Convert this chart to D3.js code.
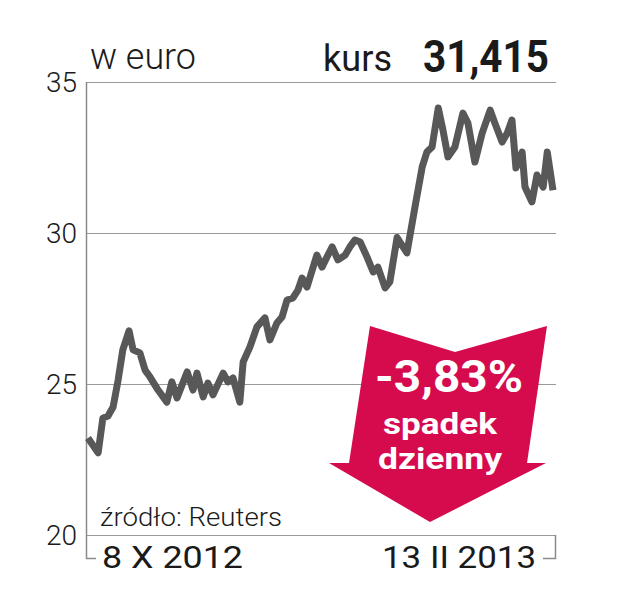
<!DOCTYPE html>
<html>
<head>
<meta charset="utf-8">
<script src="https://cdn.jsdelivr.net/npm/d3@7"></script>
<style>
    body { margin: 0; background: #fff; }
    text { font-family: Roboto, "DejaVu Sans", sans-serif; }
</style>
</head>
<body>
<div id="chart"></div>
<script>
// days since 8 X 2012 and closing price in euro
var dni = [0, 2.8, 4.1, 5.5, 6.9, 8.3, 9.6, 11.3, 12.4, 14.3, 15.7, 17.1, 19.3, 21.7, 23.1, 24.5,
    27.3, 28.9, 30.0, 31.7, 33.0, 34.4, 37.2, 38.5, 39.9, 41.8, 42.7, 44.6, 46.5, 48.7, 50.1,
    52.0, 53.4, 54.8, 56.4, 57.8, 58.9, 60.3, 61.7, 63.0, 64.4, 65.8, 67.2, 68.8, 70.8, 72.1,
    73.5, 74.9, 76.8, 78.5, 79.8, 81.8, 83.1, 85.1, 87.8, 90.0, 92.0, 93.3, 94.7, 96.4, 97.7,
    99.1, 101.0, 103.2, 104.6, 106.5, 108.5, 110.7, 112.0, 114.0, 115.4, 116.7, 117.8, 119.5,
    120.3, 122.2, 123.6, 125.3, 126.4, 128];
var kurs = [23.21, 22.72, 23.87, 23.94, 24.24, 25.13, 26.13, 26.76, 26.13, 26.03, 25.46, 25.23,
    24.80, 24.40, 25.07, 24.54, 25.40, 24.80, 25.36, 24.57, 25.03, 24.64, 25.36, 25.07, 25.20,
    24.40, 25.73, 26.23, 26.89, 27.19, 26.46, 27.02, 27.22, 27.78, 27.85, 28.11, 28.51, 28.21,
    28.77, 29.27, 28.87, 29.21, 29.54, 29.11, 29.27, 29.54, 29.77, 29.70, 29.21, 28.71, 28.87,
    28.18, 28.38, 29.85, 29.34, 30.86, 32.19, 32.68, 32.85, 34.14, 33.41, 32.52, 32.85, 33.97,
    33.64, 32.35, 33.31, 34.07, 33.64, 33.01, 33.31, 33.74, 32.15, 32.68, 31.52, 31.03, 31.92,
    31.52, 32.68, 31.415];
var yTicks = [20, 25, 30, 35];
var dateLabels = ["8 X 2012", "13 II 2013"];
var ostatni = "31,415";
var zmiana = ["-3,83%", "spadek", "dzienny"];

var width = 625, height = 595;
var start = new Date(2012, 9, 8), end = new Date(2013, 1, 13);

var svg = d3.select("#chart").append("svg")
    .attr("width", width)
    .attr("height", height);

var x = d3.scaleTime().domain([start, end]).range([88, 553]);
var y = d3.scaleLinear().domain([20, 35]).range([535, 82]);

var data = dni.map(function(d, i) {
    return { date: d3.timeHour.offset(start, Math.round(d * 24)), value: kurs[i] };
});

// gridlines
svg.selectAll(".grid")
    .data(yTicks)
    .join("line")
    .attr("x1", 86).attr("x2", 556)
    .attr("y1", function(d) { return y(d) + 0.5; })
    .attr("y2", function(d) { return y(d) + 0.5; })
    .attr("stroke", "#9a9a9a")
    .attr("stroke-width", 1.2);

// frame brackets
svg.append("path")
    .attr("d", "M86.5," + y(35) + "V558.5H96")
    .attr("fill", "none").attr("stroke", "#8a8a8a").attr("stroke-width", 1.5);
svg.append("path")
    .attr("d", "M555.5," + y(20) + "V558.5H543")
    .attr("fill", "none").attr("stroke", "#8a8a8a").attr("stroke-width", 1.5);

// y labels
svg.selectAll(".ylab")
    .data(yTicks)
    .join("text")
    .attr("x", 77)
    .attr("y", function(d) { return y(d); })
    .attr("dy", "0.36em")
    .attr("text-anchor", "end")
    .attr("font-size", 28)
    .attr("font-weight", 300)
    .attr("fill", "#1a1a1a")
    .text(function(d) { return d; });

// arrow
var arrow = [[370, 326], [455, 352], [547, 326], [527, 463], [546, 463], [430, 522], [329, 463], [349, 463]];
svg.append("polygon")
    .attr("points", arrow.map(function(p) { return p.join(","); }).join(" "))
    .attr("fill", "#d50b4e");

// price line
var line = d3.line()
    .x(function(d) { return x(d.date); })
    .y(function(d) { return y(d.value); });
svg.append("path")
    .datum(data)
    .attr("d", line)
    .attr("fill", "none")
    .attr("stroke", "#585858")
    .attr("stroke-width", 7)
    .attr("stroke-linejoin", "round");

// header texts
svg.append("text").attr("x", 90).attr("y", 69)
    .attr("font-size", 36).attr("font-weight", 300).attr("fill", "#1a1a1a")
    .attr("textLength", 106).attr("lengthAdjust", "spacingAndGlyphs")
    .text("w euro");
svg.append("text").attr("x", 323).attr("y", 71)
    .attr("font-size", 37).attr("fill", "#1a1a1a")
    .attr("textLength", 69).attr("lengthAdjust", "spacingAndGlyphs")
    .text("kurs");
svg.append("text").attr("x", 423).attr("y", 72)
    .attr("font-size", 45).attr("font-weight", 700).attr("fill", "#1a1a1a")
    .attr("textLength", 126).attr("lengthAdjust", "spacingAndGlyphs")
    .text(ostatni);

// source and dates
svg.append("text").attr("x", 100).attr("y", 526)
    .attr("font-size", 26).attr("font-weight", 300).attr("fill", "#1a1a1a")
    .attr("textLength", 182).attr("lengthAdjust", "spacingAndGlyphs")
    .text("źródło: Reuters");
svg.append("text").attr("x", 102).attr("y", 568)
    .attr("font-size", 32).attr("fill", "#1a1a1a")
    .attr("textLength", 141).attr("lengthAdjust", "spacingAndGlyphs")
    .text(dateLabels[0]);
svg.append("text").attr("x", 382).attr("y", 568)
    .attr("font-size", 32).attr("fill", "#1a1a1a")
    .attr("textLength", 154).attr("lengthAdjust", "spacingAndGlyphs")
    .text(dateLabels[1]);

// arrow texts
var arrowText = [
    { t: zmiana[0], x: 375, y: 392, size: 45, len: 148 },
    { t: zmiana[1], x: 383, y: 434, size: 30, len: 114 },
    { t: zmiana[2], x: 378, y: 469, size: 30, len: 124 }
];
svg.selectAll(".atext")
    .data(arrowText)
    .join("text")
    .attr("x", function(d) { return d.x; })
    .attr("y", function(d) { return d.y; })
    .attr("font-size", function(d) { return d.size; })
    .attr("font-weight", 700)
    .attr("fill", "#fff")
    .attr("textLength", function(d) { return d.len; })
    .attr("lengthAdjust", "spacingAndGlyphs")
    .text(function(d) { return d.t; });
</script>
</body>
</html>
